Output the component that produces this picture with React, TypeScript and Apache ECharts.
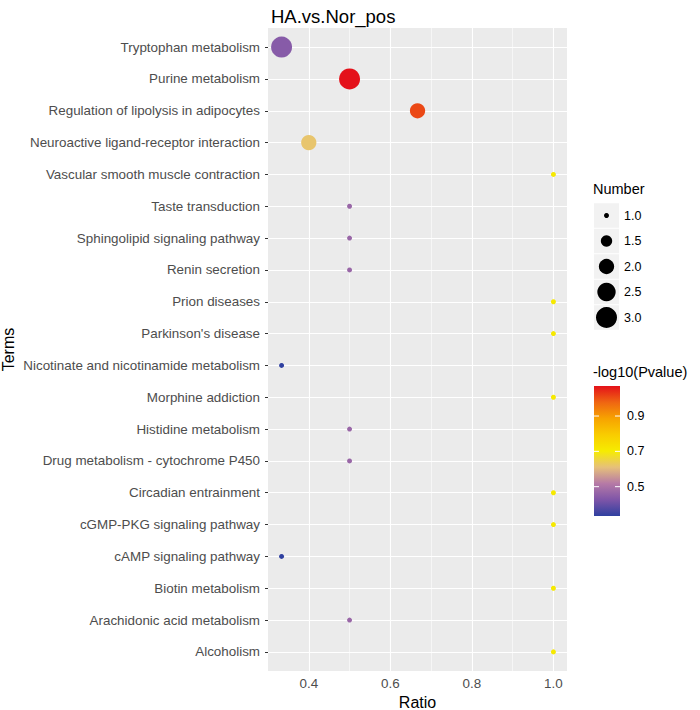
import React, { useEffect, useRef } from "react";
import * as echarts from "echarts";

const terms = [
  "Tryptophan metabolism",
  "Purine metabolism",
  "Regulation of lipolysis in adipocytes",
  "Neuroactive ligand-receptor interaction",
  "Vascular smooth muscle contraction",
  "Taste transduction",
  "Sphingolipid signaling pathway",
  "Renin secretion",
  "Prion diseases",
  "Parkinson's disease",
  "Nicotinate and nicotinamide metabolism",
  "Morphine addiction",
  "Histidine metabolism",
  "Drug metabolism - cytochrome P450",
  "Circadian entrainment",
  "cGMP-PKG signaling pathway",
  "cAMP signaling pathway",
  "Biotin metabolism",
  "Arachidonic acid metabolism",
  "Alcoholism",
];
const ratios = [0.3333, 0.5, 0.6667, 0.4, 1, 0.5, 0.5, 0.5, 1, 1, 0.3333, 1, 0.5, 0.5, 1, 1, 0.3333, 1, 0.5, 1];
const counts = [3, 3, 2, 2, 1, 1, 1, 1, 1, 1, 1, 1, 1, 1, 1, 1, 1, 1, 1, 1];
const logP = [0.44, 1.07, 1.01, 0.62, 0.71, 0.47, 0.47, 0.47, 0.71, 0.71, 0.334, 0.71, 0.47, 0.47, 0.71, 0.71, 0.334, 0.71, 0.47, 0.71];

const xMajor = [0.4, 0.6, 0.8, 1.0];
const xMinor = [0.5, 0.7, 0.9];
const sizeLegendValues = [1, 1.5, 2, 2.5, 3];
const colorTicks = [0.5, 0.7, 0.9];
const colorMin = 0.334;
const colorMax = 1.07;
const palette = ["#2f40a0", "#7e55a8", "#b67aa6", "#e6c07a", "#f6ec00", "#f9cc00", "#f7a300", "#ef6512", "#e4111a"];

const FONT = "Liberation Sans, Arial, Helvetica, sans-serif";
const sizeOf = (n: number) => Math.sqrt(25 + 208 * (n - 1));

export default function App() {
  const ref = useRef<HTMLDivElement>(null);
  useEffect(() => {
    if (!ref.current) return;
    const chart = echarts.init(ref.current, null, { renderer: "svg" });
    const idx = terms.map((_, i) => i);
    const data = terms.map((_, i) => [ratios[i], i, counts[i], logP[i]]);

    const graphic: any[] = [];
    graphic.push({
      type: "text", left: 593, top: 181, z: 10,
      style: { text: "Number", fontSize: 14.5, fontFamily: FONT, fill: "#000" },
    });
    const keyStep = 25.5;
    const keyFirstCenter = 215.5;
    sizeLegendValues.forEach((v, i) => {
      const cy = keyFirstCenter + i * keyStep;
      graphic.push({ type: "rect", z: 10, shape: { x: 594, y: cy - keyStep / 2 + 0.5, width: 25, height: keyStep - 1 }, style: { fill: "#f2f2f2" } });
      graphic.push({ type: "circle", z: 11, shape: { cx: 606.5, cy, r: sizeOf(v) / 2 }, style: { fill: "#000" } });
      graphic.push({
        type: "text", z: 11, x: 624, y: cy,
        style: { text: v.toFixed(1), fontSize: 12.5, fontFamily: FONT, fill: "#000", verticalAlign: "middle", align: "left" },
      });
    });
    const barTop = 386, barH = 130, barX = 594, barW = 26;
    graphic.push({
      type: "text", left: 593, top: 364, z: 10,
      style: { text: "-log10(Pvalue)", fontSize: 14.5, fontFamily: FONT, fill: "#000" },
    });
    graphic.push({
      type: "rect", z: 10,
      shape: { x: barX, y: barTop, width: barW, height: barH },
      style: {
        fill: new echarts.graphic.LinearGradient(0, 0, 0, 1,
          palette.slice().reverse().map((c, i) => ({ offset: i / (palette.length - 1), color: c }))),
      },
    });
    colorTicks.forEach((v) => {
      const y = barTop + barH - ((v - colorMin) / (colorMax - colorMin)) * barH;
      graphic.push({ type: "line", z: 11, shape: { x1: barX, y1: y, x2: barX + 5, y2: y }, style: { stroke: "#fff", lineWidth: 1 } });
      graphic.push({ type: "line", z: 11, shape: { x1: barX + barW - 5, y1: y, x2: barX + barW, y2: y }, style: { stroke: "#fff", lineWidth: 1 } });
      graphic.push({
        type: "text", z: 11, x: 627, y,
        style: { text: v.toFixed(1), fontSize: 12.5, fontFamily: FONT, fill: "#000", verticalAlign: "middle", align: "left" },
      });
    });

    const option: any = {
      animation: false,
      backgroundColor: "#ffffff",
      title: {
        text: "HA.vs.Nor_pos",
        left: 266, top: 2,
        textStyle: { fontSize: 18.5, fontWeight: "normal", color: "#000", fontFamily: FONT },
      },
      grid: {
        left: 268, top: 28, width: 299, height: 643, show: true, backgroundColor: "#EBEBEB", borderWidth: 0,
        containLabel: false, outerBoundsMode: "none",
      },
      xAxis: {
        type: "value", min: 0.3, max: 1.0333,
        name: "Ratio", nameLocation: "middle", nameGap: 21,
        nameTextStyle: { fontSize: 16, color: "#000", fontFamily: FONT },
        axisLine: { show: false },
        splitLine: { show: false },
        axisTick: { show: true, customValues: xMajor, length: 3, lineStyle: { color: "#333", width: 1 } },
        axisLabel: { customValues: xMajor, color: "#4d4d4d", fontSize: 13.4, fontFamily: FONT, margin: 6, formatter: (v: number) => v.toFixed(1) },
      },
      yAxis: {
        type: "value", inverse: true, min: -0.6, max: 19.6,
        name: "Terms", nameLocation: "middle", nameGap: 252, nameRotate: 90,
        nameTextStyle: { fontSize: 16, color: "#000", fontFamily: FONT },
        axisLine: { show: false },
        splitLine: { show: false },
        axisTick: { show: true, customValues: idx, length: 3, lineStyle: { color: "#333", width: 1 } },
        axisLabel: { customValues: idx, color: "#4d4d4d", fontSize: 13.4, fontFamily: FONT, margin: 8, formatter: (v: number) => terms[Math.round(v)] ?? "" },
      },
      visualMap: {
        show: false, type: "continuous", seriesIndex: 1, dimension: 3,
        min: colorMin, max: colorMax, inRange: { color: palette },
      },
      graphic,
      series: [
        {
          type: "scatter", data: [], z: 1, silent: true,
          markLine: {
            silent: true, symbol: ["none", "none"], animation: false,
            label: { show: false },
            lineStyle: { color: "#ffffff", type: "solid" },
            data: [
              ...xMinor.map((v) => ({ xAxis: v, lineStyle: { width: 0.55, color: "#fff", type: "solid" } })),
              ...xMajor.map((v) => ({ xAxis: v, lineStyle: { width: 1.1, color: "#fff", type: "solid" } })),
              ...idx.map((i) => ({ yAxis: i, lineStyle: { width: 1.1, color: "#fff", type: "solid" } })),
            ],
          },
        },
        {
          type: "scatter", z: 5, data,
          symbolSize: (val: number[]) => sizeOf(val[2]),
          itemStyle: { opacity: 1 },
        },
      ],
    };
    chart.setOption(option);
    return () => chart.dispose();
  }, []);
  return <div ref={ref} style={{ position: "fixed", left: 0, top: 0, width: 700, height: 710 }} />;
}
